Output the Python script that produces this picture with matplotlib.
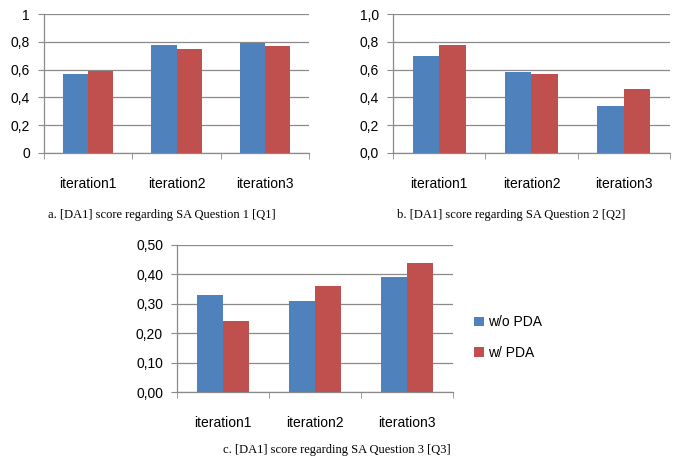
import matplotlib
matplotlib.use("Agg")

import numpy as np
from matplotlib import pyplot as plt

CATEGORIES = ["iteration1", "iteration2", "iteration3"]
SERIES_LABELS = ["w/o PDA", "w/ PDA"]

Q1_WO = [0.57, 0.78, 0.79]
Q1_W = [0.59, 0.75, 0.77]
Q2_WO = [0.70, 0.58, 0.34]
Q2_W = [0.78, 0.57, 0.46]
Q3_WO = [0.33, 0.31, 0.39]
Q3_W = [0.24, 0.36, 0.44]

Q1_TICKS = [0, 0.2, 0.4, 0.6, 0.8, 1.0]
Q1_TICKLABELS = ["0", "0,2", "0,4", "0,6", "0,8", "1"]
Q2_TICKS = [0, 0.2, 0.4, 0.6, 0.8, 1.0]
Q2_TICKLABELS = ["0,0", "0,2", "0,4", "0,6", "0,8", "1,0"]
Q3_TICKS = [0, 0.1, 0.2, 0.3, 0.4, 0.5]
Q3_TICKLABELS = ["0,00", "0,10", "0,20", "0,30", "0,40", "0,50"]

CAPTIONS = [
    "a. [DA1] score regarding SA Question 1 [Q1]",
    "b. [DA1] score regarding SA Question 2 [Q2]",
    "c. [DA1] score regarding SA Question 3 [Q3]",
]

BLUE = "#4f81bd"
RED = "#c0504d"
GRID = "#8a8a8a"

W, H = 685, 466
plt.rcParams["font.family"] = ["Liberation Sans", "DejaVu Sans"]

fig = plt.figure(figsize=(W / 100, H / 100), dpi=100)


def px_axes(left, top, right, bottom):
    return fig.add_axes([left / W, 1 - bottom / H, (right - left) / W, (bottom - top) / H])


def draw(ax, wo, w, ticks, ticklabels):
    x = np.arange(len(CATEGORIES))
    bw = 0.286
    ax.bar(x - bw / 2, wo, bw, color=BLUE, label=SERIES_LABELS[0], zorder=3)
    ax.bar(x + bw / 2, w, bw, color=RED, label=SERIES_LABELS[1], zorder=3)
    ax.set_xlim(-0.5, len(CATEGORIES) - 0.5)
    ax.set_ylim(ticks[0], ticks[-1])
    ax.set_yticks(ticks)
    ax.set_yticklabels(ticklabels)
    ax.set_xticks(x)
    ax.set_xticklabels(CATEGORIES)
    ax.set_xticks(np.arange(len(CATEGORIES) + 1) - 0.5, minor=True)
    ax.tick_params(axis="x", which="major", length=0, pad=17, labelsize=10)
    ax.tick_params(axis="x", which="minor", length=4, color=GRID, direction="out")
    ax.tick_params(axis="y", length=4, color=GRID, pad=6, labelsize=10)
    ax.grid(axis="y", color=GRID, linewidth=0.9, zorder=0)
    for side in ["top", "right"]:
        ax.spines[side].set_visible(False)
    for side in ["left", "bottom"]:
        ax.spines[side].set_color(GRID)
        ax.spines[side].set_linewidth(0.9)


ax1 = px_axes(44, 14, 309, 153)
draw(ax1, Q1_WO, Q1_W, Q1_TICKS, Q1_TICKLABELS)
ax2 = px_axes(393, 14, 670, 153)
draw(ax2, Q2_WO, Q2_W, Q2_TICKS, Q2_TICKLABELS)
ax3 = px_axes(177, 245, 453, 392)
draw(ax3, Q3_WO, Q3_W, Q3_TICKS, Q3_TICKLABELS)

ax3.legend(loc="center left", bbox_to_anchor=(1.03, 0.37), frameon=False,
           fontsize=10, handlelength=0.7, handleheight=0.7, handletextpad=0.3,
           labelspacing=1.2)

serif = ["Liberation Serif", "DejaVu Serif"]
fig.text(162 / W, 1 - 215 / H, CAPTIONS[0], ha="center", va="center", family=serif, fontsize=9)
fig.text(511 / W, 1 - 215 / H, CAPTIONS[1], ha="center", va="center", family=serif, fontsize=9)
fig.text(337 / W, 1 - 450 / H, CAPTIONS[2], ha="center", va="center", family=serif, fontsize=9)

fig.savefig("out.png", dpi=100)
